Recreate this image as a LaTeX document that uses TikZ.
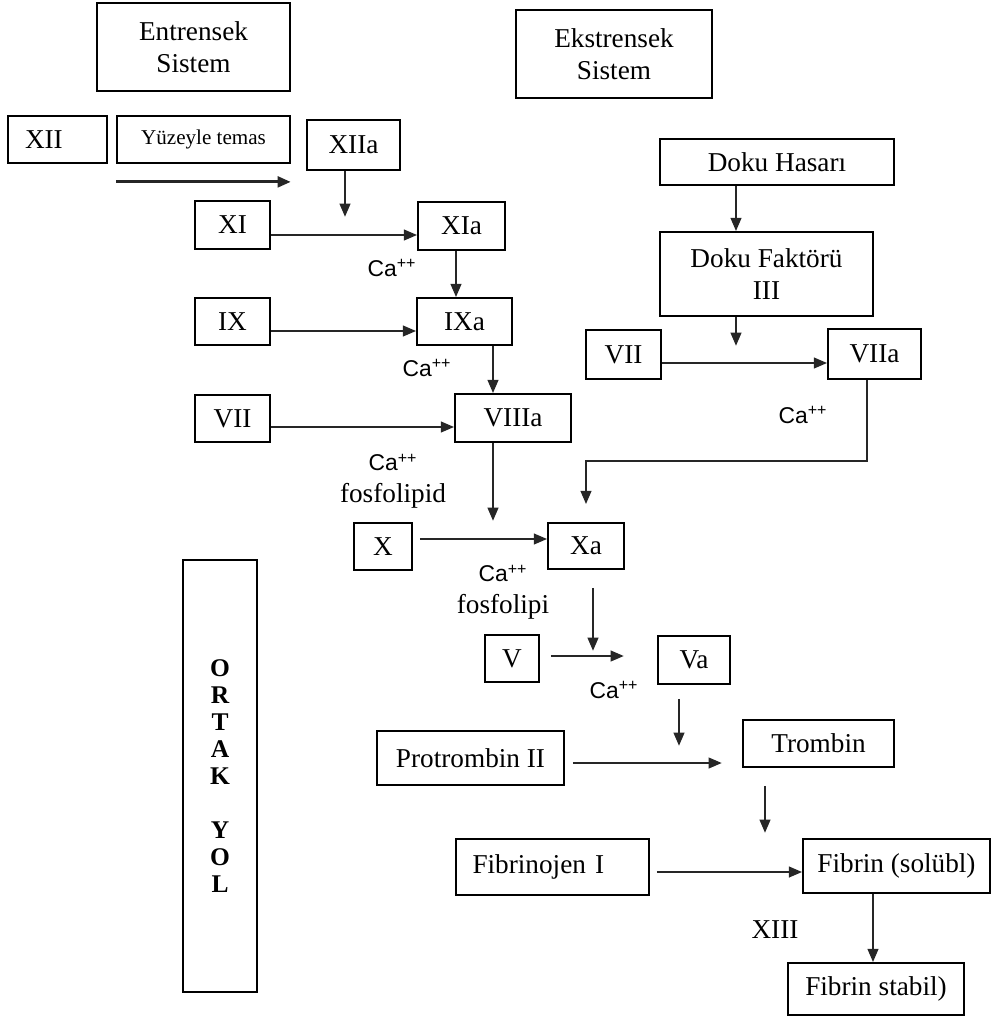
\documentclass[tikz,border=0pt]{standalone}
\usepackage{fontspec}
\setmainfont{Liberation Serif}
\setsansfont{Liberation Sans}
\usetikzlibrary{arrows.meta, calc}

\begin{document}
\begin{tikzpicture}[
    x=0.02cm, y=-0.02cm,
    box/.style={rectangle, draw=black, line width=1pt, inner sep=2pt, align=center, font=\fontsize{15.5}{18}\selectfont},
    lbl/.style={align=center, inner sep=1pt, font=\fontsize{15.5}{18}\selectfont},
    ca/.style={inner sep=1pt, font=\sffamily\fontsize{13}{16}\selectfont},
    arr/.style={line width=1.3pt, draw=black!85, -{Triangle[length=7.5pt, width=6pt]}}
  ]
    \useasboundingbox (0,0) rectangle (992,1019);

    % --- Titles ---
    \node[box, minimum width=3.86cm, minimum height=1.76cm] (ent) at (193.5,47) {Entrensek\\Sistem};
    \node[box, minimum width=3.92cm, minimum height=1.76cm] (eks) at (614,54) {Ekstrensek\\Sistem};

    % --- Entrensek sistem ---
    \node[box, minimum width=1.98cm, minimum height=0.94cm, text width=1.3cm, align=left] (xii) at (57.5,139.5) {XII};
    \node[box, minimum width=3.46cm, minimum height=0.94cm, font=\fontsize{12}{14}\selectfont] (yuz) at (203.5,139.5) {Yüzeyle temas};
    \node[box, minimum width=1.86cm, minimum height=1.0cm] (xiia) at (353.5,145) {XIIa};
    \node[box, minimum width=1.5cm, minimum height=0.96cm] (xi) at (232.5,225) {XI};
    \node[box, minimum width=1.74cm, minimum height=0.96cm] (xia) at (461.5,226) {XIa};
    \node[box, minimum width=1.5cm, minimum height=0.94cm] (ix) at (232.5,321.5) {IX};
    \node[box, minimum width=1.9cm, minimum height=0.94cm] (ixa) at (464.5,321.5) {IXa};
    \node[box, minimum width=1.5cm, minimum height=0.94cm] (vii1) at (232.5,418.5) {VII};
    \node[box, minimum width=2.32cm, minimum height=0.96cm] (viiia) at (513,418) {VIIIa};

    % --- Ekstrensek sistem ---
    \node[box, minimum width=4.68cm, minimum height=0.92cm] (hasar) at (777,162) {Doku Hasarı};
    \node[box, minimum width=4.26cm, minimum height=1.68cm] (faktor) at (766.5,274) {Doku Faktörü\\III};
    \node[box, minimum width=1.5cm, minimum height=0.98cm] (vii2) at (623.5,354.5) {VII};
    \node[box, minimum width=1.86cm, minimum height=1.0cm] (viia) at (874.5,354) {VIIa};

    % --- Ortak yol ---
    \node[box, minimum width=1.48cm, minimum height=8.64cm, font=\bfseries\fontsize{14.5}{15.4}\selectfont] (ortak) at (220,776) {O\\R\\T\\A\\K\\[15.4pt]Y\\O\\L};
    \node[box, minimum width=1.16cm, minimum height=0.94cm] (x) at (383,546.5) {X};
    \node[box, minimum width=1.52cm, minimum height=0.92cm] (xa) at (586,546) {Xa};
    \node[box, minimum width=1.08cm, minimum height=0.94cm] (v) at (512,658.5) {V};
    \node[box, minimum width=1.44cm, minimum height=0.96cm] (va) at (694,660) {Va};
    \node[box, minimum width=3.74cm, minimum height=1.08cm] (prot) at (470.5,758) {Protrombin II};
    \node[box, minimum width=3.02cm, minimum height=0.94cm] (trom) at (818.5,743.5) {Trombin};
    \node[box, minimum width=3.86cm, minimum height=1.12cm, text width=3.2cm, align=left] (fibj) at (552.5,867) {Fibrinojen I};
    \node[box, minimum width=3.74cm, minimum height=1.08cm] (fibs) at (896.5,866) {Fibrin (solübl)};
    \node[box, minimum width=3.52cm, minimum height=1.04cm] (fibst) at (876,989) {Fibrin stabil)};

    % --- Cofactor labels ---
    \node[ca] (ca1) at (392,268) {Ca\textsuperscript{++}};
    \node[ca] (ca2) at (427,368) {Ca\textsuperscript{++}};
    \node[lbl] (ca3) at (393,481) {{\sffamily\fontsize{13}{16}\selectfont Ca\textsuperscript{++}}\\fosfolipid};
    \node[lbl] (ca4) at (503,592) {{\sffamily\fontsize{13}{16}\selectfont Ca\textsuperscript{++}}\\fosfolipi};
    \node[ca] (ca5) at (614,690) {Ca\textsuperscript{++}};
    \node[ca] (ca6) at (803,415) {Ca\textsuperscript{++}};
    \node[lbl] (xiii) at (775,930) {XIII};

    % --- Arrows: entrensek ---
    \draw[arr, line width=1.8pt] (yuz.south west) ++(0,18) coordinate (p) -- (p -| yuz.south east);
    \draw[arr] (xiia.south) ++(-8.5,0) -- ++(0,46);
    \draw[arr] (xi.east) ++(0,10) coordinate (p) -- (p -| xia.west);
    \draw[arr] (xia.south) ++(-5.5,0) coordinate (p) -- (p |- ixa.north);
    \draw[arr] (ix.east) ++(0,9.5) coordinate (p) -- (p -| ixa.west);
    \draw[arr] (ixa.south) ++(28.5,0) coordinate (p) -- (p |- viiia.north);
    \draw[arr] (vii1.east) ++(0,8.5) coordinate (p) -- (p -| viiia.west);
    \draw[arr] (viiia.south) ++(-20,0) -- ++(0,78);

    % --- Arrows: ekstrensek ---
    \draw[arr] (hasar.south) ++(-41,0) coordinate (p) -- (p |- faktor.north);
    \draw[arr] (faktor.south) ++(-30.5,0) -- ++(0,29);
    \draw[arr] (vii2.east) ++(0,8.5) coordinate (p) -- (p -| viia.west);
    \coordinate (xin) at ($(xa.north)+(0,-18)$);
    \draw[arr] (viia.south) ++(-7.5,0) -- ++(0,81) -| (xin);

    % --- Arrows: ortak yol ---
    \draw[arr] (x.east) ++(7,-7.5) coordinate (p) -- (p -| xa.west);
    \draw[arr] (xa.south) ++(7,18) -- ++(0,63);
    \draw[arr] (v.east) ++(11,-2.5) -- ++(73,0);
    \draw[arr] (va.south) ++(-15,14) -- ++(0,47);
    \draw[arr] (prot.east) ++(8,5) -- ++(149,0);
    \draw[arr] (trom.south) ++(-53.5,18) -- ++(0,47);
    \draw[arr] (fibj.east) ++(7,5) coordinate (p) -- (p -| fibs.west);
    \draw[arr] (fibs.south) ++(-23.5,0) coordinate (p) -- (p |- fibst.north);

  \end{tikzpicture}
\end{document}
